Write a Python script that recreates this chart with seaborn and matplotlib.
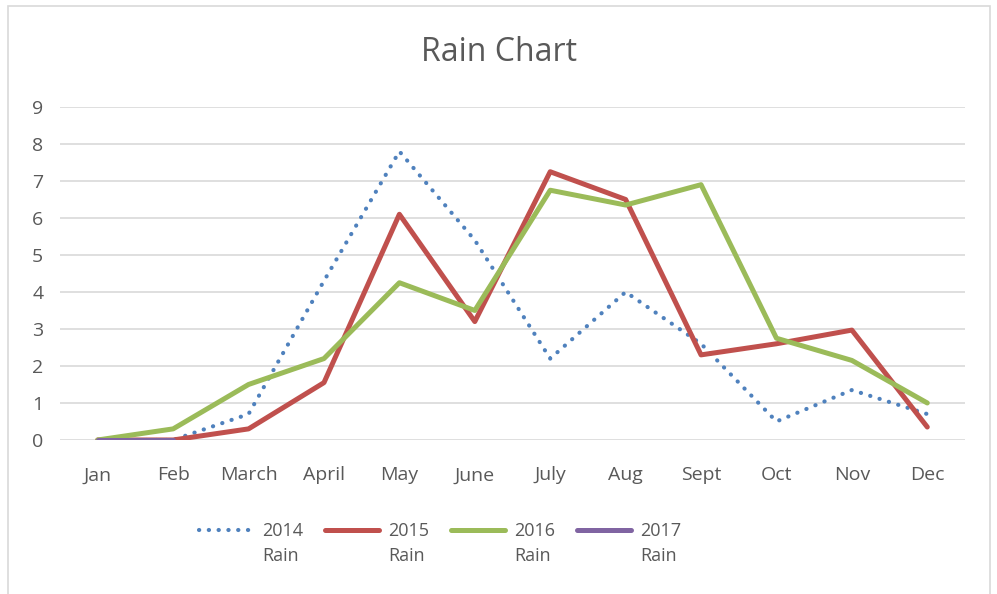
import numpy as np
import pandas as pd
import seaborn as sns
import matplotlib.pyplot as plt
from matplotlib.patches import Rectangle
from matplotlib.legend_handler import HandlerLine2D

months = ["Jan", "Feb", "March", "April", "May", "June", "July", "Aug", "Sept", "Oct", "Nov", "Dec"]
rain_2014 = [0, 0, 0.7, 4.3, 7.8, 5.4, 2.2, 4.0, 2.6, 0.5, 1.35, 0.7]
rain_2015 = [0, 0, 0.3, 1.55, 6.1, 3.2, 7.25, 6.5, 2.3, 2.6, 2.97, 0.35]
rain_2016 = [0, 0.3, 1.5, 2.2, 4.25, 3.5, 6.75, 6.35, 6.9, 2.75, 2.15, 1.0]
rain_2017 = [0, 0, np.nan, np.nan, np.nan, np.nan, np.nan, np.nan, np.nan, np.nan, np.nan, np.nan]

series = {"2014\nRain": rain_2014, "2015\nRain": rain_2015,
          "2016\nRain": rain_2016, "2017\nRain": rain_2017}
colors = ["#4F81BD", "#C0504D", "#9BBB59", "#8064A2"]


# legend line sits next to the first text line, like Excel
class TopLine(HandlerLine2D):
    def create_artists(self, legend, orig_handle, xdescent, ydescent, width, height, fontsize, trans):
        return super().create_artists(legend, orig_handle, xdescent, ydescent - 1.5 * fontsize,
                                      width, height, fontsize, trans)


sns.set_style("white")
plt.rcParams['font.family'] = ['Open Sans', 'DejaVu Sans']

fig = plt.figure(figsize=(9.97, 5.94), dpi=100)
ax = fig.add_axes([0.0602, 0.2593, 0.9077, 0.5606])

x = np.arange(len(months))
for (label, vals), c in zip(series.items(), colors):
    df = pd.DataFrame({"x": x, "y": vals})
    if label.startswith("2014"):
        sns.lineplot(data=df, x="x", y="y", ax=ax, color=c, lw=3.0, label=label,
                     linestyle=(0, (0.05, 2.3)), dash_capstyle="round")
    else:
        sns.lineplot(data=df, x="x", y="y", ax=ax, color=c, lw=3.6, label=label)

ax.set_xlim(-0.5, 11.5)
ax.set_ylim(0, 9)
ax.set_yticks(range(10))
ax.set_xticks(x)
ax.set_xticklabels(months)
ax.set_xlabel("")
ax.set_ylabel("")
ax.grid(axis="y", color="#d9d9d9", lw=1.2)
ax.set_axisbelow(True)
for s in ax.spines.values():
    s.set_visible(False)
ax.tick_params(axis="both", length=0, labelsize=14, colors="#595959")
ax.tick_params(axis="x", pad=19)
ax.tick_params(axis="y", pad=12)

fig.text(0.5, 0.912, "Rain Chart", ha="center", va="center", fontsize=23, color="#595959")

handles, labels = ax.get_legend_handles_labels()
leg = ax.legend(handles, labels, loc="center", bbox_to_anchor=(0.42, -0.31), ncol=4,
                frameon=False, fontsize=13, labelcolor="#595959", handlelength=3.0,
                columnspacing=1.2, handletextpad=0.5,
                handler_map={h: TopLine() for h in handles})
plt.setp(leg.get_texts(), linespacing=1.5)

fig.add_artist(Rectangle((0.008, -0.01), 0.985, 1.0, transform=fig.transFigure,
                         fill=False, edgecolor="#d9d9d9", lw=1.2))

fig.savefig("out.png", dpi=100)
